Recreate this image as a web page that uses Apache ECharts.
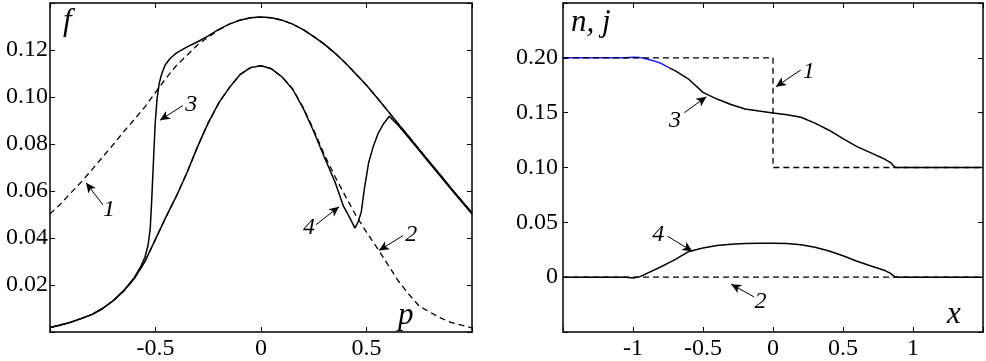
<!DOCTYPE html>
<html>
<head>
<meta charset="utf-8">
<style>
  html, body { margin: 0; padding: 0; background: #fff; }
  #chart { width: 986px; height: 361px; }
</style>
<script src="https://cdn.jsdelivr.net/npm/echarts@6/dist/echarts.min.js"></script>
</head>
<body>
<div id="chart"></div>
<script>
// left panel: f(p)
var pGrid = [-1, -0.95, -0.9, -0.85, -0.8, -0.75, -0.7, -0.65, -0.6, -0.55, -0.5, -0.45, -0.4, -0.35, -0.3, -0.25, -0.2, -0.15, -0.1, -0.05,
  0, 0.05, 0.1, 0.15, 0.2, 0.25, 0.3, 0.35, 0.4, 0.45, 0.5, 0.55, 0.6, 0.65, 0.7, 0.75, 0.8, 0.85, 0.9, 0.95, 1]
var f1 = [0.0502, 0.0545, 0.0593, 0.0640, 0.0692, 0.0745, 0.0798, 0.0853, 0.0905, 0.0958, 0.1020, 0.1080, 0.1135, 0.1178, 0.1222, 0.1255, 0.1285, 0.1310, 0.1327, 0.1337,
  0.1340, 0.1337, 0.1327, 0.1310, 0.1287, 0.1257, 0.1225, 0.1187, 0.1145, 0.1098, 0.1050, 0.0997, 0.0942, 0.0886, 0.0832, 0.0777, 0.0722, 0.0668, 0.0613, 0.0560, 0.0507]
var f2 = [0.0019, 0.0030, 0.0042, 0.0058, 0.0075, 0.0100, 0.0133, 0.0175, 0.0228, 0.0300, 0.0395, 0.0490, 0.0580, 0.0680, 0.0790, 0.0890, 0.0975, 0.1040, 0.1095, 0.1125,
  0.1133, 0.1120, 0.1085, 0.1035, 0.0955, 0.0860, 0.0755, 0.0663, 0.0578, 0.0496, 0.0425, 0.0358, 0.0289, 0.0218, 0.0161, 0.0110, 0.0085, 0.0060, 0.0041, 0.0029, 0.0018]
var p3 = [-1, -0.95, -0.9, -0.85, -0.8, -0.75, -0.7, -0.65, -0.6, -0.57, -0.55, -0.535, -0.525, -0.518, -0.51, -0.502, -0.493, -0.482, -0.47, -0.455, -0.43, -0.4, -0.35, -0.3, -0.25, -0.2,
  -0.15, -0.1, -0.05, 0, 0.05, 0.1, 0.15, 0.2, 0.25, 0.3, 0.35, 0.4, 0.45, 0.5, 0.55, 0.6, 0.65, 0.7, 0.75, 0.8, 0.85, 0.9, 0.95, 1]
var f3 = [0.0019, 0.0030, 0.0042, 0.0058, 0.0075, 0.0101, 0.0134, 0.0177, 0.0232, 0.0278, 0.0318, 0.0370, 0.0440, 0.0560, 0.0720, 0.0880, 0.0990, 0.1060, 0.1100, 0.1135, 0.1165, 0.1188, 0.1213, 0.1235, 0.1260, 0.1288,
  0.1310, 0.1327, 0.1337, 0.1340, 0.1337, 0.1327, 0.1310, 0.1287, 0.1257, 0.1225, 0.1187, 0.1145, 0.1098, 0.1050, 0.0997, 0.0942, 0.0886, 0.0832, 0.0777, 0.0722, 0.0668, 0.0613, 0.0560, 0.0507]
var p4 = [-1, -0.95, -0.9, -0.85, -0.8, -0.75, -0.7, -0.65, -0.6, -0.55, -0.5, -0.45, -0.4, -0.35, -0.3, -0.25, -0.2, -0.15, -0.1, -0.05,
  0, 0.05, 0.1, 0.15, 0.2, 0.25, 0.3, 0.35, 0.39, 0.42, 0.445, 0.46, 0.475, 0.49, 0.51, 0.532, 0.555, 0.58, 0.608, 0.65, 0.7, 0.75, 0.8, 0.85, 0.9, 0.95, 1]
var f4 = [0.0019, 0.0030, 0.0042, 0.0058, 0.0075, 0.0100, 0.0133, 0.0175, 0.0228, 0.0300, 0.0395, 0.0490, 0.0580, 0.0680, 0.0790, 0.0890, 0.0975, 0.1040, 0.1095, 0.1125,
  0.1133, 0.1120, 0.1085, 0.1033, 0.0952, 0.0853, 0.0745, 0.0640, 0.0537, 0.0488, 0.0442, 0.0468, 0.0510, 0.0610, 0.0720, 0.0789, 0.0845, 0.0885, 0.0918, 0.0880, 0.0827, 0.0772, 0.0717, 0.0663, 0.0608, 0.0555, 0.0502]

// right panel: n(x), j(x)
var xN1 = [-1.5, 0, 0, 1.5]
var n1 = [0.2, 0.2, 0.1, 0.1]
var xJ2 = [-1.5, 1.5]
var j2 = [0, 0]
var xN3blue = [-1.5, -1.05, -1.0, -0.95, -0.9, -0.85, -0.8, -0.74]
var n3blue = [0.2, 0.2, 0.2006, 0.2002, 0.1990, 0.1972, 0.1950, 0.1908]
var xN3 = [-0.74, -0.7, -0.6, -0.5, -0.4, -0.3, -0.2, -0.1, 0, 0.1, 0.2, 0.3, 0.4, 0.5, 0.6, 0.7, 0.8, 0.84, 0.87, 0.9, 1.5]
var n3 = [0.1908, 0.1884, 0.1803, 0.1685, 0.1624, 0.1575, 0.1533, 0.1515, 0.1498, 0.1480, 0.1458, 0.1405, 0.1340, 0.1264, 0.1190, 0.1133, 0.1075, 0.1045, 0.1003, 0.1, 0.1]
var xJ4 = [-1.5, -1.05, -1.0, -0.95, -0.9, -0.8, -0.7, -0.6, -0.5, -0.4, -0.3, -0.2, -0.1, 0, 0.1, 0.2, 0.3, 0.4, 0.5, 0.6, 0.7, 0.8, 0.84, 0.87, 0.9, 1.5]
var j4 = [0, 0, -0.0007, 0.0005, 0.0035, 0.0095, 0.0160, 0.0235, 0.0265, 0.0288, 0.0300, 0.0307, 0.0310, 0.0310, 0.0306, 0.0295, 0.0272, 0.0238, 0.0195, 0.0145, 0.0102, 0.0060, 0.0035, 0.0003, 0, 0]

// curve labels: [text, labelX, labelY, tailX, tailY, tipX, tipY]
var leftNotes = [
  ['1', -0.72, 0.0520, -0.749, 0.0541, -0.829, 0.0635],
  ['3', -0.33, 0.0968, -0.370, 0.0964, -0.479, 0.0901],
  ['4', 0.228, 0.0444, 0.261, 0.0457, 0.370, 0.0533],
  ['2', 0.712, 0.0415, 0.673, 0.0410, 0.559, 0.0347]
]
var rightNotes = [
  ['1', 0.255, 0.187, 0.199, 0.189, 0.021, 0.1736],
  ['3', -0.70, 0.143, -0.633, 0.150, -0.476, 0.1645],
  ['4', -0.82, 0.039, -0.753, 0.0373, -0.576, 0.0236],
  ['2', -0.09, -0.0225, -0.135, -0.018, -0.299, -0.0064]
]

function pairs (xs, ys) {
  return xs.map(function (x, i) { return [x, ys[i]] })
}

var serif = 'Liberation Serif'
var solid = { color: '#000', width: 1.5, type: 'solid' }
var dashed = { color: '#000', width: 1.3, type: [6, 4] }

function noteMarks (notes) {
  return {
    markLine: {
      silent: true,
      animation: false,
      symbol: ['none', 'arrow'],
      symbolSize: [7, 10],
      lineStyle: { color: '#000', width: 1, type: 'solid' },
      label: { show: false },
      data: notes.map(function (n) { return [{ coord: [n[3], n[4]] }, { coord: [n[5], n[6]] }] })
    },
    markPoint: {
      silent: true,
      animation: false,
      symbol: 'circle',
      symbolSize: 0,
      label: { show: true, color: '#000', fontFamily: serif, fontStyle: 'italic', fontSize: 24, position: 'inside' },
      data: notes.map(function (n) { return { coord: [n[1], n[2]], value: n[0] } })
    }
  }
}

function lineSeries (name, xi, yi, data, style, extra) {
  var s = {
    name: name,
    type: 'line',
    xAxisIndex: xi,
    yAxisIndex: yi,
    data: data,
    showSymbol: false,
    symbol: 'none',
    smooth: false,
    lineStyle: style,
    animation: false,
    z: 3
  }
  if (extra) { Object.assign(s, extra) }
  return s
}

function near (a, b) { return Math.abs(a - b) < 1e-6 }

var axisLine = { show: true, onZero: false, lineStyle: { color: '#000', width: 1.5 } }
var tick = { show: true, inside: true, length: 5, lineStyle: { color: '#000', width: 1 } }
var lbl = { color: '#000', fontFamily: serif, fontSize: 24 }

var option = {
  backgroundColor: '#fff',
  animation: false,
  textStyle: { fontFamily: serif },
  grid: [
    { left: 50, top: 3, width: 422, height: 331 },
    { left: 563, top: 3, width: 422, height: 330 }
  ],
  xAxis: [
    { type: 'value', gridIndex: 0, min: -1, max: 1, interval: 0.5, position: 'bottom',
      axisLine: axisLine, axisTick: tick, splitLine: { show: false },
      axisLabel: Object.assign({ margin: 5, formatter: function (v) { return Math.abs(v) > 0.99 ? '' : String(v) } }, lbl) },
    { type: 'value', gridIndex: 0, min: -1, max: 1, interval: 0.5, position: 'top',
      axisLine: axisLine, axisTick: tick, splitLine: { show: false }, axisLabel: { show: false } },
    { type: 'value', gridIndex: 1, min: -1.5, max: 1.5, interval: 0.5, position: 'bottom',
      axisLine: axisLine, axisTick: tick, splitLine: { show: false },
      axisLabel: Object.assign({ margin: 5, formatter: function (v) { return Math.abs(v) > 1.49 ? '' : String(v) } }, lbl) },
    { type: 'value', gridIndex: 1, min: -1.5, max: 1.5, interval: 0.5, position: 'top',
      axisLine: axisLine, axisTick: tick, splitLine: { show: false }, axisLabel: { show: false } }
  ],
  yAxis: [
    { type: 'value', gridIndex: 0, min: 0, max: 0.14, interval: 0.02, position: 'left',
      axisLine: axisLine, axisTick: tick, splitLine: { show: false },
      axisLabel: Object.assign({ margin: 2, formatter: function (v) { return (near(v, 0) || v > 0.139) ? '' : v.toFixed(2) } }, lbl) },
    { type: 'value', gridIndex: 0, min: 0, max: 0.14, interval: 0.02, position: 'right',
      axisLine: axisLine, axisTick: tick, splitLine: { show: false }, axisLabel: { show: false } },
    { type: 'value', gridIndex: 1, min: -0.05, max: 0.25, interval: 0.05, position: 'left',
      axisLine: axisLine, axisTick: tick, splitLine: { show: false },
      axisLabel: Object.assign({ margin: 5, formatter: function (v) {
        if (v < -0.049 || v > 0.249) return ''
        if (near(v, 0)) return '0'
        return v.toFixed(2)
      } }, lbl) },
    { type: 'value', gridIndex: 1, min: -0.05, max: 0.25, interval: 0.05, position: 'right',
      axisLine: axisLine, axisTick: tick, splitLine: { show: false }, axisLabel: { show: false } }
  ],
  series: [
    lineSeries('1', 0, 0, pairs(pGrid, f1), dashed, noteMarks(leftNotes)),
    lineSeries('2', 0, 0, pairs(pGrid, f2), dashed),
    lineSeries('3', 0, 0, pairs(p3, f3), solid),
    lineSeries('4', 0, 0, pairs(p4, f4), solid),
    lineSeries('n3 start', 2, 2, pairs(xN3blue, n3blue), { color: '#1a1aff', width: 1.5, type: 'solid' }, { z: 2 }),
    lineSeries('n1', 2, 2, pairs(xN1, n1), dashed, noteMarks(rightNotes)),
    lineSeries('j2', 2, 2, pairs(xJ2, j2), dashed),
    lineSeries('n3', 2, 2, pairs(xN3, n3), solid),
    lineSeries('j4', 2, 2, pairs(xJ4, j4), solid)
  ],
  graphic: [
    { type: 'text', left: 63, top: 6, style: { text: 'f', fontFamily: serif, fontStyle: 'italic', fontSize: 31, fill: '#000' } },
    { type: 'text', left: 398, top: 300, style: { text: 'p', fontFamily: serif, fontStyle: 'italic', fontSize: 31, fill: '#000' } },
    { type: 'text', left: 571, top: 7, style: { text: 'n, j', fontFamily: serif, fontStyle: 'italic', fontSize: 31, fill: '#000' } },
    { type: 'text', left: 947, top: 299, style: { text: 'x', fontFamily: serif, fontStyle: 'italic', fontSize: 31, fill: '#000' } }
  ]
}

var myChart = echarts.init(document.getElementById('chart'))
myChart.setOption(option)
</script>
</body>
</html>
